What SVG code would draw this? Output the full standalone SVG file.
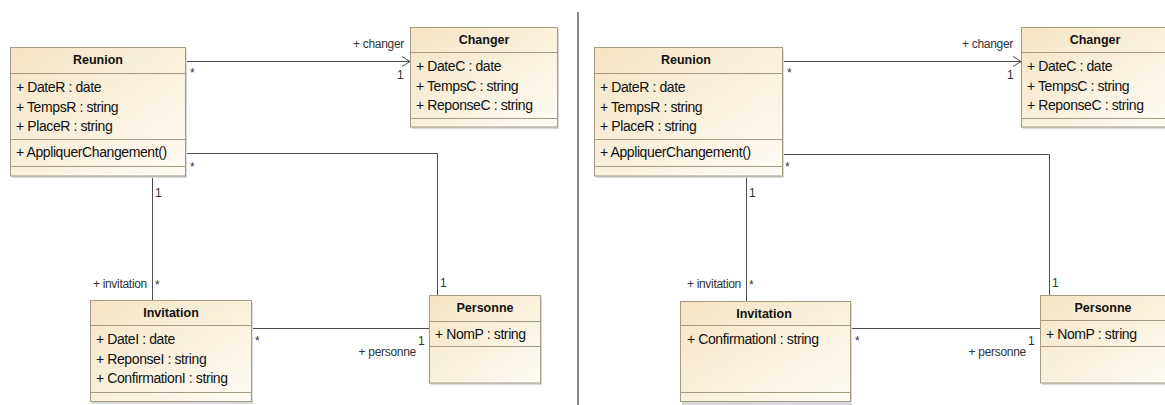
<svg xmlns="http://www.w3.org/2000/svg" width="1165" height="405" viewBox="0 0 1165 405">
  <defs>
    <linearGradient id="classFill" x1="0" y1="0" x2="1" y2="1">
      <stop offset="0" stop-color="#f4e5c3"/>
      <stop offset="0.55" stop-color="#faf1de"/>
      <stop offset="1" stop-color="#fffcf6"/>
    </linearGradient>
    <marker id="openArrow" viewBox="0 0 10 12" refX="9" refY="6" markerWidth="10" markerHeight="12" markerUnits="userSpaceOnUse" orient="auto">
      <path d="M1,1 L9,6 L1,11" fill="none" stroke="#4d4d4d" stroke-width="1"/>
    </marker>
  </defs>
  <style>
    .shadow { fill: #d9d9d9; }
    .box { fill: url(#classFill); stroke: #a59b82; stroke-width: 1; }
    .sep { stroke: #a59b82; stroke-width: 1; }
    .title { font-family: "Liberation Sans", Arial, sans-serif; font-size: 12.5px; font-weight: bold; fill: #111; text-anchor: middle; }
    .attr { font-family: "Liberation Sans", Arial, sans-serif; font-size: 14px; letter-spacing: -0.4px; fill: #111; }
    .lbl { font-family: "Liberation Sans", Arial, sans-serif; font-size: 12px; letter-spacing: -0.3px; fill: #333; }
    .end { text-anchor: end; }
    .conn { fill: none; stroke: #4d4d4d; stroke-width: 1; }
  </style>

  <rect width="1165" height="405" fill="#ffffff"/>

  <!-- associations -->
  <g id="connectors">
    <line class="conn" x1="185" y1="61.5" x2="410" y2="61.5" marker-end="url(#openArrow)"/>
    <polyline class="conn" points="185,153.5 437.5,153.5 437.5,295"/>
    <line class="conn" x1="152.5" y1="176" x2="152.5" y2="300"/>
    <line class="conn" x1="251" y1="328.5" x2="429" y2="328.5"/>

    <line class="conn" x1="782" y1="61.5" x2="1021" y2="61.5" marker-end="url(#openArrow)"/>
    <polyline class="conn" points="782,154.5 1049.5,154.5 1049.5,295"/>
    <line class="conn" x1="746.5" y1="176" x2="746.5" y2="301"/>
    <line class="conn" x1="850" y1="328.5" x2="1040" y2="328.5"/>

    <!-- association end labels -->
    <text class="lbl end" x="404" y="48">+ changer</text>
    <text class="lbl" x="397" y="79">1</text>
    <text class="lbl" x="190" y="77">*</text>
    <text class="lbl" x="190" y="171">*</text>
    <text class="lbl" x="155" y="197">1</text>
    <text class="lbl end" x="147" y="288">+ invitation</text>
    <text class="lbl" x="155" y="289">*</text>
    <text class="lbl" x="440" y="287">1</text>
    <text class="lbl" x="255" y="345">*</text>
    <text class="lbl end" x="416" y="356">+ personne</text>
    <text class="lbl" x="418" y="345">1</text>

    <text class="lbl end" x="1013" y="48">+ changer</text>
    <text class="lbl" x="1007" y="79">1</text>
    <text class="lbl" x="787" y="77">*</text>
    <text class="lbl" x="785" y="171">*</text>
    <text class="lbl" x="749" y="197">1</text>
    <text class="lbl end" x="741" y="288">+ invitation</text>
    <text class="lbl" x="749" y="289">*</text>
    <text class="lbl" x="1052" y="287">1</text>
    <text class="lbl" x="855" y="345">*</text>
    <text class="lbl end" x="1026" y="356">+ personne</text>
    <text class="lbl" x="1028" y="345">1</text>
  </g>

  <!-- vertical divider between the two versions -->
  <line x1="578" y1="12" x2="578" y2="405" stroke="#8a8a8a" stroke-width="2"/>

  <!-- version 1 -->
  <g id="reunion1">
    <rect class="shadow" x="12" y="49" width="175" height="129"/>
    <rect class="box" x="10.5" y="47.5" width="175" height="128.5"/>
    <line class="sep" x1="10.5" y1="73.5" x2="185.5" y2="73.5"/>
    <line class="sep" x1="10.5" y1="139.5" x2="185.5" y2="139.5"/>
    <line class="sep" x1="10.5" y1="166.5" x2="185.5" y2="166.5"/>
    <text class="title" x="98" y="64">Reunion</text>
    <text class="attr" x="16" y="92">+ DateR : date</text>
    <text class="attr" x="16" y="111.5">+ TempsR : string</text>
    <text class="attr" x="16" y="131">+ PlaceR : string</text>
    <text class="attr" x="16" y="157">+ AppliquerChangement()</text>
  </g>

  <g id="changer1">
    <rect class="shadow" x="412" y="29" width="147" height="100"/>
    <rect class="box" x="410.5" y="27.5" width="147" height="99.5"/>
    <line class="sep" x1="410.5" y1="52.5" x2="557.5" y2="52.5"/>
    <line class="sep" x1="410.5" y1="118.5" x2="557.5" y2="118.5"/>
    <text class="title" x="484" y="44">Changer</text>
    <text class="attr" x="416" y="71">+ DateC : date</text>
    <text class="attr" x="416" y="90.5">+ TempsC : string</text>
    <text class="attr" x="416" y="110">+ ReponseC : string</text>
  </g>

  <g id="invitation1">
    <rect class="shadow" x="92" y="302" width="161" height="102"/>
    <rect class="box" x="90.5" y="300.5" width="161" height="101"/>
    <line class="sep" x1="90.5" y1="325.5" x2="251.5" y2="325.5"/>
    <line class="sep" x1="90.5" y1="392.5" x2="251.5" y2="392.5"/>
    <text class="title" x="171" y="317">Invitation</text>
    <text class="attr" x="96" y="344">+ DateI : date</text>
    <text class="attr" x="96" y="363.5">+ ReponseI : string</text>
    <text class="attr" x="96" y="383">+ ConfirmationI : string</text>
  </g>

  <g id="personne1">
    <rect class="shadow" x="431" y="297" width="111" height="88"/>
    <rect class="box" x="429.5" y="295.5" width="111" height="87.5"/>
    <line class="sep" x1="429.5" y1="321.5" x2="540.5" y2="321.5"/>
    <line class="sep" x1="429.5" y1="346.5" x2="540.5" y2="346.5"/>
    <text class="title" x="485" y="312">Personne</text>
    <text class="attr" x="435" y="339">+ NomP : string</text>
  </g>

  <!-- version 2 -->
  <g id="reunion2">
    <rect class="shadow" x="596" y="49" width="188" height="129"/>
    <rect class="box" x="594.5" y="47.5" width="188" height="128.5"/>
    <line class="sep" x1="594.5" y1="73.5" x2="782.5" y2="73.5"/>
    <line class="sep" x1="594.5" y1="139.5" x2="782.5" y2="139.5"/>
    <line class="sep" x1="594.5" y1="166.5" x2="782.5" y2="166.5"/>
    <text class="title" x="686" y="64">Reunion</text>
    <text class="attr" x="600" y="92">+ DateR : date</text>
    <text class="attr" x="600" y="111.5">+ TempsR : string</text>
    <text class="attr" x="600" y="131">+ PlaceR : string</text>
    <text class="attr" x="600" y="157">+ AppliquerChangement()</text>
  </g>

  <g id="changer2">
    <rect class="shadow" x="1023" y="29" width="147" height="100"/>
    <rect class="box" x="1021.5" y="27.5" width="147" height="99.5"/>
    <line class="sep" x1="1021.5" y1="52.5" x2="1168" y2="52.5"/>
    <line class="sep" x1="1021.5" y1="118.5" x2="1168" y2="118.5"/>
    <text class="title" x="1095" y="44">Changer</text>
    <text class="attr" x="1027" y="71">+ DateC : date</text>
    <text class="attr" x="1027" y="90.5">+ TempsC : string</text>
    <text class="attr" x="1027" y="110">+ ReponseC : string</text>
  </g>

  <g id="invitation2">
    <rect class="shadow" x="682" y="303" width="170" height="102"/>
    <rect class="box" x="680.5" y="301.5" width="170" height="100"/>
    <line class="sep" x1="680.5" y1="325.5" x2="850.5" y2="325.5"/>
    <line class="sep" x1="680.5" y1="392.5" x2="850.5" y2="392.5"/>
    <text class="title" x="764" y="318">Invitation</text>
    <text class="attr" x="687" y="344">+ ConfirmationI : string</text>
  </g>

  <g id="personne2">
    <rect class="shadow" x="1042" y="297" width="126" height="88"/>
    <rect class="box" x="1040.5" y="295.5" width="126" height="87.5"/>
    <line class="sep" x1="1040.5" y1="320.5" x2="1166" y2="320.5"/>
    <line class="sep" x1="1040.5" y1="346.5" x2="1166" y2="346.5"/>
    <text class="title" x="1103" y="312">Personne</text>
    <text class="attr" x="1046" y="339">+ NomP : string</text>
  </g>
</svg>
